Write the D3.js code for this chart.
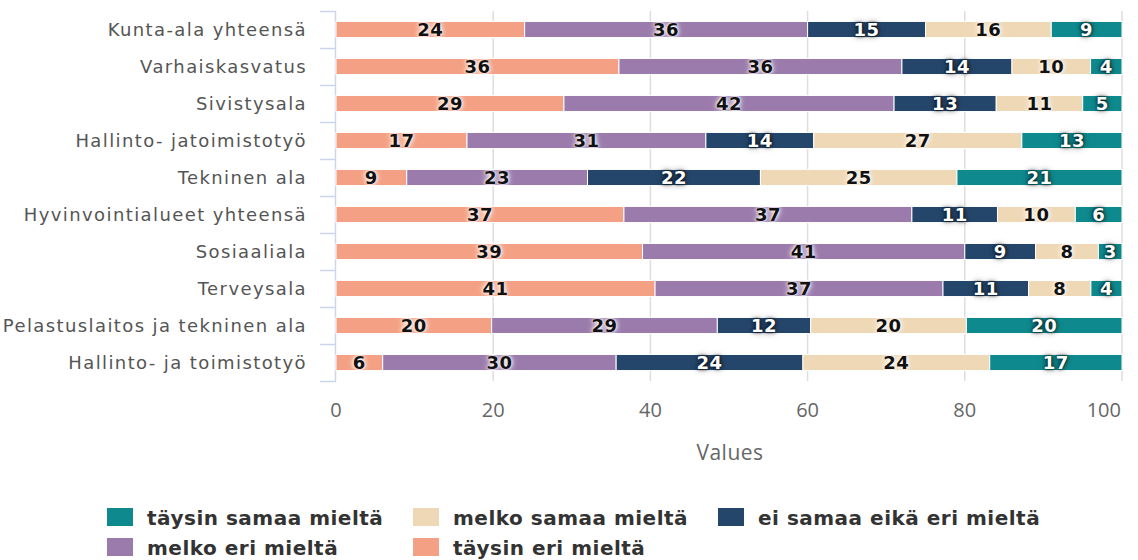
<!DOCTYPE html>
<html>
<head>
<meta charset="utf-8">
<script src="https://cdn.jsdelivr.net/npm/d3@7"></script>
<style>
  body { margin: 0; background: #fff; }
  svg { display: block; }
  .dark-label { text-shadow: 0 0 3px #000, 0 0 6px rgba(0,0,0,0.7); }
  .light-label { text-shadow: 0 0 2px #fff, 0 0 4px #fff, 0 0 6px #fff; }
</style>
</head>
<body>
<script>
const W = 1138, H = 560

// categories top to bottom
const categories = [
  "Kunta-ala yhteensä",
  "Varhaiskasvatus",
  "Sivistysala",
  "Hallinto- jatoimistotyö",
  "Tekninen ala",
  "Hyvinvointialueet yhteensä",
  "Sosiaaliala",
  "Terveysala",
  "Pelastuslaitos ja tekninen ala",
  "Hallinto- ja toimistotyö"
]

// series in stacking order (left to right)
const seriesNames = ["täysin eri mieltä", "melko eri mieltä", "ei samaa eikä eri mieltä", "melko samaa mieltä", "täysin samaa mieltä"]
const seriesColors = ["#F4A084", "#9B7BAC", "#25466B", "#EFD8B6", "#0E8A8E"]
const darkSeries = [false, false, true, false, true]

const taysinEri   = [24, 36, 29, 17, 9, 37, 39, 41, 20, 6]
const melkoEri    = [36, 36, 42, 31, 23, 37, 41, 37, 29, 30]
const eiSamaaEri  = [15, 14, 13, 14, 22, 11, 9, 11, 12, 24]
const melkoSamaa  = [16, 10, 11, 27, 25, 10, 8, 8, 20, 24]
const taysinSamaa = [9, 4, 5, 13, 21, 6, 3, 4, 20, 17]
const seriesValues = [taysinEri, melkoEri, eiSamaaEri, melkoSamaa, taysinSamaa]

const xTicks = [0, 20, 40, 60, 80, 100]

// legend order as in the picture
const legendOrder = [4, 3, 2, 1, 0]

const plot = { left: 336, right: 1122, top: 11, bottom: 381 }

const svg = d3.select("body").append("svg")
  .attr("width", W)
  .attr("height", H)

const x = d3.scaleLinear().domain([0, 100]).range([plot.left, plot.right])
const y = d3.scaleBand().domain(categories).range([plot.top, plot.bottom])
  .paddingInner(0.565).paddingOuter(0.2825)

// gridlines
svg.append("g").selectAll("line")
  .data(xTicks.filter(d => d > 0))
  .enter().append("line")
    .attr("x1", d => x(d)).attr("x2", d => x(d))
    .attr("y1", plot.top).attr("y2", plot.bottom)
    .attr("stroke", "#dedede").attr("stroke-width", 1.5)

// y axis line with ticks between categories
const step = y.step()
const yAxis = svg.append("g")
yAxis.append("line")
  .attr("x1", plot.left - 0.5).attr("x2", plot.left - 0.5)
  .attr("y1", plot.top).attr("y2", plot.bottom)
  .attr("stroke", "#ccd6eb").attr("stroke-width", 1.5)
yAxis.selectAll(".tk")
  .data(d3.range(categories.length + 1))
  .enter().append("line")
    .attr("x1", plot.left - 16).attr("x2", plot.left)
    .attr("y1", i => plot.top + i * step + 0.5)
    .attr("y2", i => plot.top + i * step + 0.5)
    .attr("stroke", "#ccd6eb").attr("stroke-width", 1.5)

yAxis.selectAll(".cat")
  .data(categories)
  .enter().append("text")
    .attr("x", plot.left - 29)
    .attr("y", d => y(d) + y.bandwidth() / 2)
    .attr("dy", "0.35em")
    .attr("text-anchor", "end")
    .attr("font-family", "DejaVu Sans")
    .attr("font-size", 18)
    .attr("letter-spacing", 1.4)
    .attr("fill", "#555")
    .text(d => d)

// stacked percent data
const rows = categories.map((c, i) => {
  const vals = seriesValues.map(s => s[i])
  const total = d3.sum(vals)
  let acc = 0
  return vals.map((v, k) => {
    const seg = { cat: c, k: k, v: v, x0: acc / total * 100, x1: (acc + v) / total * 100 }
    acc += v
    return seg
  })
})
const segs = rows.flat()

svg.append("g").selectAll("rect")
  .data(segs)
  .enter().append("rect")
    .attr("x", d => x(d.x0))
    .attr("width", d => x(d.x1) - x(d.x0))
    .attr("y", d => y(d.cat))
    .attr("height", y.bandwidth())
    .attr("fill", d => seriesColors[d.k])
    .attr("stroke", "#fff")
    .attr("stroke-width", 1)

// data labels
svg.append("g").selectAll("text")
  .data(segs)
  .enter().append("text")
    .attr("class", d => darkSeries[d.k] ? "dark-label" : "light-label")
    .attr("x", d => (x(d.x0) + x(d.x1)) / 2)
    .attr("y", d => y(d.cat) + y.bandwidth() / 2)
    .attr("dy", "0.36em")
    .attr("text-anchor", "middle")
    .attr("font-family", "DejaVu Sans")
    .attr("font-weight", "bold")
    .attr("font-size", 18)
    .attr("letter-spacing", 0.5)
    .attr("fill", d => darkSeries[d.k] ? "#fff" : "#111")
    .text(d => d.v)

// x axis labels
svg.append("g").selectAll("text")
  .data(xTicks)
  .enter().append("text")
    .attr("x", d => d === 100 ? x(d) - 1 : x(d))
    .attr("y", 417)
    .attr("text-anchor", d => d === 100 ? "end" : "middle")
    .attr("font-family", "Open Sans")
    .attr("font-size", 20)
    .attr("fill", "#666")
    .text(d => d)

svg.append("text")
  .attr("x", 730)
  .attr("y", 460)
  .attr("text-anchor", "middle")
  .attr("font-family", "Open Sans")
  .attr("font-size", 21)
  .attr("letter-spacing", 0.5)
  .attr("fill", "#666")
  .text("Values")

// legend
const legendPos = [[107, 525], [413, 525], [718, 525], [107, 555], [413, 555]]
const lg = svg.append("g").selectAll("g")
  .data(legendOrder)
  .enter().append("g")
    .attr("transform", (d, i) => `translate(${legendPos[i][0]},${legendPos[i][1]})`)
lg.append("rect")
  .attr("x", 0).attr("y", -17)
  .attr("width", 26).attr("height", 18)
  .attr("fill", d => seriesColors[d])
lg.append("text")
  .attr("x", 40).attr("y", 0)
  .attr("font-family", "DejaVu Sans")
  .attr("font-weight", "bold")
  .attr("font-size", 20)
  .attr("letter-spacing", 0.5)
  .attr("fill", "#333")
  .text(d => seriesNames[d])
</script>
</body>
</html>
